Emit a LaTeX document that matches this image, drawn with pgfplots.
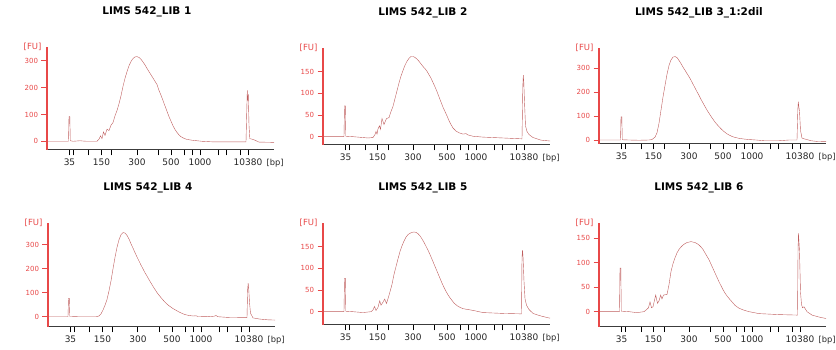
\documentclass[border=0pt]{standalone}
\usepackage{fontspec}
\setmainfont{DejaVu Sans}
\usepackage{pgfplots}
\pgfplotsset{compat=1.18}
\definecolor{fured}{RGB}{232,72,72}
\definecolor{curvec}{RGB}{190,92,92}
\definecolor{axgray}{RGB}{60,60,60}
\pgfplotsset{
  elec/.style={
    scale only axis, width=227pt,
    xmin=0, xmax=227,
    axis x line*=bottom, axis y line*=left,
    axis line style={-},
    x axis line style={draw=axgray, line width=1pt},
    y axis line style={draw=fured, line width=1.2pt},
    tick align=outside,
    major tick length=5.5pt,
    xtick={22.5,26.5,42,54.5,65,90,111,124,137.5,145,153,171.5,179,193,201},
    xticklabels={35,,,150,,300,,500,,,1000,,,,10380},
    x tick style={black, line width=1pt},
    y tick style={fured, line width=1pt},
    x tick label style={font=\fontsize{9}{9}\selectfont, text=black!85},
    y tick label style={font=\fontsize{7}{7}\selectfont, text=fured},
    /pgf/number format/assume math mode=true,
    scaled y ticks=false,
    ylabel={[FU]},
    every axis y label/.style={at={(axis description cs:0,1)}, anchor=east, xshift=-2pt, font=\fontsize{8.5}{9}\selectfont, text=fured},
    xlabel={[bp]},
    every axis x label/.style={at={(axis description cs:0.952,0)}, anchor=west, yshift=-13.5pt, font=\fontsize{8.3}{9}\selectfont, text=black!85},
    title style={at={(axis description cs:0.44,1)}, anchor=center, yshift=29pt, font=\bfseries\fontsize{10.5}{11}\selectfont},
    cycle list={{draw=curvec, line width=1pt, mark=none}},
  }
}
\begin{document}
\begin{tikzpicture}[x=1pt,y=1pt]
\useasboundingbox (0,0) rectangle (836,350);
% Panel 1
\begin{axis}[elec, at={(47pt,200pt)}, anchor=south west, height=103pt,
  ymin=-32.5, ymax=352, ytick={0,100,200,300}, title={LIMS 542\_LIB 1}]
\addplot coordinates {(0,0) (21.5,0) (22,92) (22.8,92) (23.3,2) (26,0) (33,2) (36,1) (40,0) (50,0) (52,8) (53.5,20) (55,10) (56.5,35) (58,22) (60,45) (62,40) (64,60) (66,70) (68,95) (70,115) (72,140) (74,170) (76,205) (78,235) (80,260) (82,282) (84,298) (86,309) (88,315) (90,316) (92,313) (94,306) (96,296) (98,285) (100,272) (102,260) (104,248) (106,236) (108,224) (110,212) (112,190) (114,172) (116,152) (118,132) (120,112) (122,92) (124,75) (126,58) (128,44) (130,33) (132,24) (134,17) (137,11) (140,7) (145,4) (150,2) (155,0) (165,-2) (199,-2) (199.8,120) (200.3,190) (200.8,150) (201.3,175) (202,60) (202.8,10) (205,8) (208,4) (212,-3) (227,-4)};
\end{axis}
% Panel 2
\begin{axis}[elec, at={(323pt,205pt)}, anchor=south west, height=97pt,
  ymin=-19.2, ymax=204.7, ytick={0,50,100,150}, title={LIMS 542\_LIB 2}]
\addplot coordinates {(0,0) (21,0) (21.5,71) (22.3,71) (22.8,1) (30,0) (45,-3) (50,-2) (52,5) (53,12) (54,6) (55,18) (56.5,25) (57.5,17) (59,42) (61,28) (63.5,42) (66,44) (68,58) (70,70) (72,88) (74,106) (76,124) (78,140) (80,153) (82,165) (84,174) (86,181) (88,185) (90,185) (92,183) (94,179) (96,174) (98,168) (100,162) (102,157) (104,151) (106,143) (108,135) (110,125) (112,115) (114,104) (116,92) (118,80) (120,68) (122,58) (124,48) (126,37) (128,28) (130,20) (133,13) (136,9) (140,6) (143,7) (145,4) (150,1) (160,-1) (180,-3) (199,-5) (199.8,115) (200.3,142) (200.8,125) (201.5,80) (202.5,25) (204,12) (206,5) (210,-2) (218,-8) (227,-10)};
\end{axis}
% Panel 3
\begin{axis}[elec, at={(599pt,206pt)}, anchor=south west, height=96pt,
  ymin=-16.7, ymax=385, ytick={0,100,200,300}, title={LIMS 542\_LIB 3\_1:2dil}]
\addplot coordinates {(0,0) (21.5,0) (22,97) (22.8,97) (23.3,1) (30,0) (40,-1) (50,0) (53,2) (56,12) (58,30) (60,70) (62,125) (64,180) (66,228) (68,275) (70,312) (72,335) (74,347) (76,349) (78,345) (80,333) (82,320) (84,305) (86,292) (88,278) (90,265) (92,250) (94,234) (96,218) (98,202) (100,187) (102,170) (104,155) (106,140) (108,125) (110,112) (112,99) (114,87) (116,75) (118,65) (120,56) (122,47) (124,39) (126,32) (128,26) (130,21) (133,15) (136,11) (140,7) (145,4) (150,2) (157,0) (165,-3) (180,-3) (190,0) (198,0) (198.8,125) (199.3,160) (199.8,140) (200.5,120) (201.5,40) (203,8) (206,4) (212,-3) (218,-6) (227,-7)};
\end{axis}
% Panel 4
\begin{axis}[elec, at={(48pt,23pt)}, anchor=south west, height=104pt,
  ymin=-43, ymax=392, ytick={0,100,200,300}, title={LIMS 542\_LIB 4}]
\addplot coordinates {(0,0) (20,0) (20.5,77) (21.3,77) (21.8,1) (30,0) (48,0) (51,3) (53,12) (55,28) (57,48) (59,72) (61,108) (63,150) (65,200) (67,248) (69,290) (71,322) (73,343) (75,352) (77,350) (79,340) (81,325) (83,305) (85,287) (87,268) (89,250) (91,233) (93,216) (95,200) (97,184) (99,170) (101,155) (103,141) (105,127) (107,114) (109,101) (111,90) (113,80) (115,70) (117,61) (119,53) (121,46) (123,40) (125,34) (128,27) (131,20) (134,14) (137,9) (140,6) (145,3) (148,4) (150,1) (160,0) (166,2) (168,5) (170,0) (180,-3) (199,-4) (199.6,112) (200.2,140) (200.8,110) (201.5,60) (202.5,15) (205,-5) (212,-10) (220,-13) (227,-14)};
\end{axis}
% Panel 5
\begin{axis}[elec, at={(323pt,25pt)}, anchor=south west, height=102pt,
  ymin=-30.7, ymax=204.7, ytick={0,50,100,150}, title={LIMS 542\_LIB 5}]
\addplot coordinates {(0,0) (21,0) (21.5,77) (22.3,77) (22.8,1) (30,0) (40,-2) (48,0) (50,4) (51.5,12) (53,3) (55,10) (56.7,25) (58,15) (60,22) (61.7,29) (63.5,19) (65,30) (67,46) (69,63) (71,86) (73,104) (75,122) (77,139) (79,152) (81,163) (83,172) (85,178) (87,181) (89,183) (91,184) (93,183) (95,180) (97,175) (99,168) (101,160) (103,151) (105,142) (107,132) (109,121) (111,110) (113,99) (115,88) (117,77) (119,66) (121,56) (123,47) (125,39) (127,32) (129,26) (131,20) (134,14) (137,10) (140,7) (145,5) (150,3) (160,-2) (180,-4) (198.5,-5) (199,125) (199.5,142) (200,128) (201,70) (202,30) (203.5,15) (206,5) (210,-4) (218,-10) (227,-15)};
\end{axis}
% Panel 6
\begin{axis}[elec, at={(599pt,23.3pt)}, anchor=south west, height=103.7pt,
  ymin=-30.7, ymax=181, ytick={0,50,100,150}, title={LIMS 542\_LIB 6}]
\addplot coordinates {(0,0) (20.5,0) (21,89) (21.8,89) (22.3,1) (30,0) (38,-2) (45,0) (48,5) (49.5,8) (51,20) (52.5,8) (54,10) (56.7,34) (58.5,17) (60,22) (61.7,34) (63,26) (64.5,34) (68,35) (70,55) (72,82) (74,98) (76,110) (78,120) (80,127) (82,132) (84,136) (86,139) (88,141) (90,142) (92,143) (94,142) (96,141) (98,139) (100,136) (102,132) (104,127) (106,120) (108,113) (110,106) (112,97) (114,88) (116,79) (118,70) (120,61) (122,53) (124,45) (126,38) (128,32) (130,27) (133,20) (136,13) (140,7) (145,3) (150,0) (160,-4) (180,-6) (198.5,-7) (199,120) (199.4,160) (199.9,145) (200.5,123) (201.5,40) (202.5,15) (203.5,8) (205,10) (208,0) (213,-7) (220,-11) (227,-14)};
\end{axis}
\end{tikzpicture}
\end{document}
